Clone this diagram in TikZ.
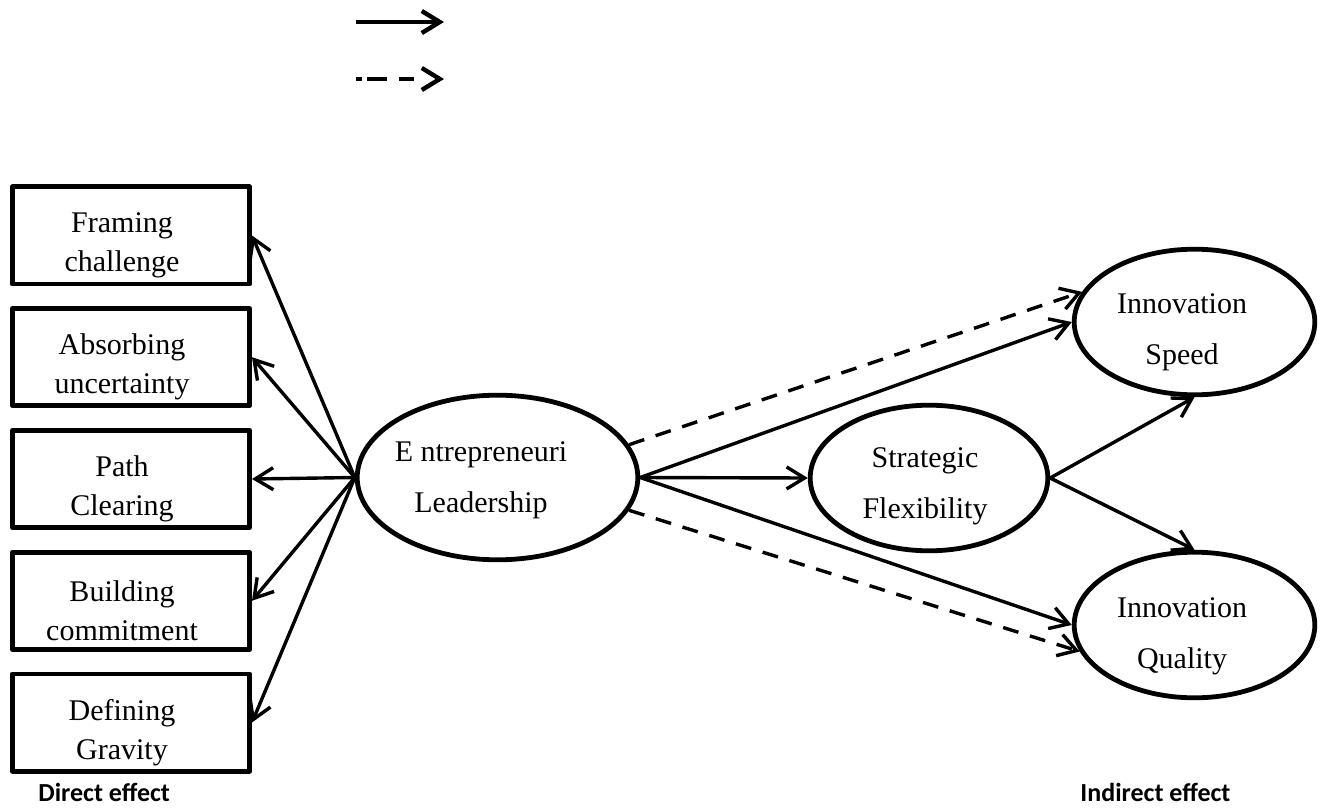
\documentclass[tikz,border=0pt]{standalone}
\usepackage{fontspec}
\setmainfont{Liberation Serif}
\newfontfamily\effectfont{Carlito}
\usetikzlibrary{arrows.meta,shapes.geometric}

\begin{document}
\begin{tikzpicture}[x=.5pt,y=-.5pt,
    every node/.style={inner sep=0pt},
    factor/.style={draw,line width=2.4pt,line join=round,minimum width=118.6pt,minimum height=48.6pt},
    oval/.style={draw,ellipse,line width=2.4pt},
    lbl/.style={font=\fontsize{15}{19.5}\selectfont,align=center},
    ovallbl/.style={font=\fontsize{15}{25.5}\selectfont,align=center},
    link/.style={line width=1.7pt,-{Straight Barb[length=9pt,width=11pt]}},
    dlink/.style={link,dash pattern=on 8pt off 6pt},
    effect/.style={font=\effectfont\bfseries\fontsize{13}{15}\selectfont,anchor=base west}]
    %\draw[step=20,lightgray,ultra thin] (0,0) grid (1320,807);
    \useasboundingbox (0,0) rectangle (1320,807);
    \coordinate (solA) at (356,22);
    \coordinate (solB) at (444,22);
    \coordinate (dashA) at (356,79);
    \coordinate (dashB) at (444,79);
    \draw[link,line width=2.2pt] (solA) -- (solB);
    \draw[link,line width=2.2pt,dash pattern=on 3pt off 2.5pt on 10pt off 6pt on 7.5pt off 30pt] (dashA) -- (dashB);
    \foreach \nm/\txt [count=\i from 0] in {frame/{Framing\\challenge},absorb/{Absorbing\\uncertainty},
        clear/{Path\\Clearing},commit/{Building\\commitment},gravity/{Defining\\Gravity}}{
      \node[factor] (\nm) at (131,235.5+121.75*\i) {};
      \node[lbl] (\nm-t) at ([shift={(-9,10)}]\nm.center) {\txt};
    }
    \node[oval,minimum width=140.3pt,minimum height=82.3pt] (lead) at (497.5,477.5) {};
    \node[ovallbl] (lead-t) at (481,480) {E ntrepreneuri\\Leadership};
    \node[oval,minimum width=118.8pt,minimum height=72.8pt] (flex) at (929,478) {};
    \node[ovallbl] (flex-t) at (925,486) {Strategic\\Flexibility};
    \node[oval,minimum width=120.3pt,minimum height=72.8pt] (speed) at (1194.5,322) {};
    \node[ovallbl] (speed-t) at (1182,332) {Innovation\\Speed};
    \node[oval,minimum width=120.3pt,minimum height=72.8pt] (quality) at (1194.5,625) {};
    \node[ovallbl] (quality-t) at (1182,636) {Innovation\\Quality};
    \foreach \nm in {frame,absorb,clear,commit,gravity}
      \draw[link] (lead.west) -- (\nm.east);
    \draw[link] (lead.east) -- (flex.west);
    \draw[link] (lead.east) -- (speed.west);
    \draw[link] (lead.east) -- (quality.west);
    \draw[dlink] (lead.14) -- (speed.165);
    \draw[dlink] (lead.-14) -- (quality.-167);
    \draw[link] (flex.east) -- (speed.south);
    \draw[link] (flex.east) -- (quality.north);
    \node[effect] (direct) at (38,801) {Direct effect};
    \node[effect] (indirect) at (1080,801) {Indirect effect};
\end{tikzpicture}
\end{document}
